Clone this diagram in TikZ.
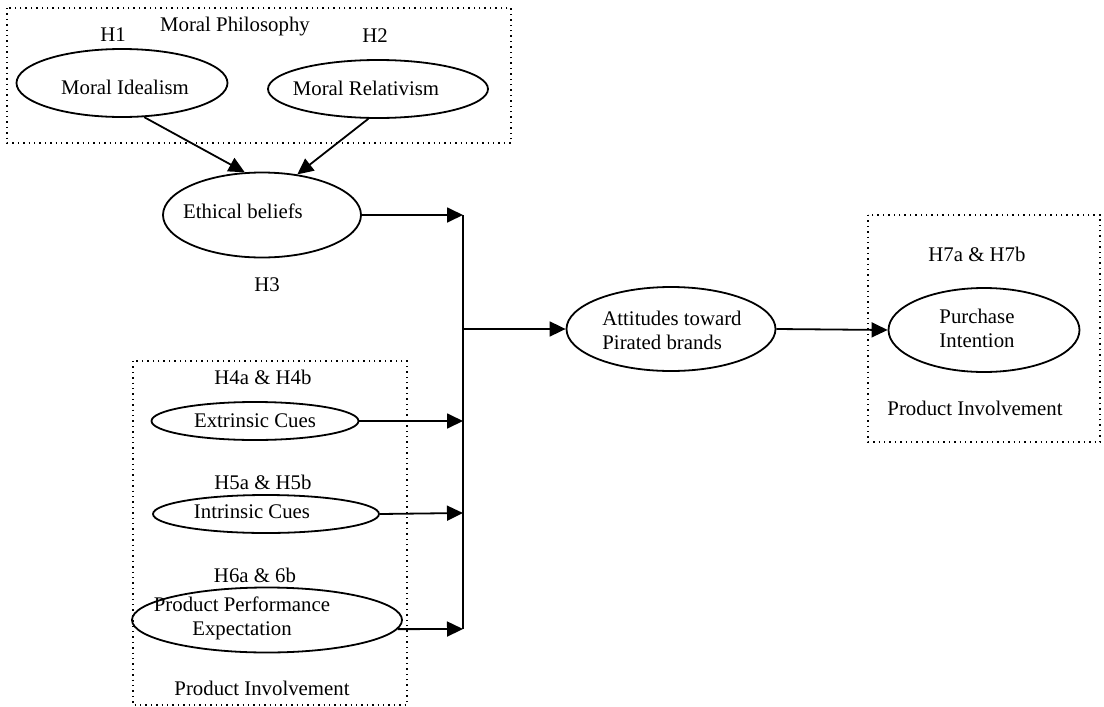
\documentclass[tikz,border=0pt]{standalone}
\usepackage{fontspec}
\setmainfont{Liberation Serif}
\usetikzlibrary{shapes.geometric,arrows.meta}
\tikzset{>={Triangle[length=8pt,width=7.5pt]}}
\tikzset{
    construct/.style={draw, ellipse, line width=0.9pt, inner sep=0pt},
    plain/.style={inner sep=0pt, font=\fontsize{10.4}{12}\selectfont, align=center},
    groupbox/.style={dotted, line width=0.7pt},
    link/.style={->, line width=0.9pt}
}

\begin{document}
\begin{tikzpicture}[x=0.5pt, y=-0.5pt]
			\useasboundingbox (0,0) rectangle (1104,707);
			
			% Groups
			\draw[groupbox] (7,8) rectangle (511,143);
			\draw[groupbox] (133,361) rectangle (407,705);
			\draw[groupbox] (868,215) rectangle (1100,442);
			
			% Constructs
			\node[construct, minimum width=105.5pt, minimum height=34pt] (mi) at (122,83) {};
			\node[construct, minimum width=110pt, minimum height=29pt] (mr) at (378,89) {};
			\node[construct, minimum width=99pt, minimum height=42.5pt] (eth) at (262,215) {};
			\node[construct, minimum width=103.5pt, minimum height=19pt] (ext) at (255,421) {};
			\node[construct, minimum width=113pt, minimum height=19pt] (int) at (266,514) {};
			\node[construct, minimum width=135pt, minimum height=32.5pt] (ppe) at (267,620) {};
			\node[construct, minimum width=104.5pt, minimum height=42pt] (att) at (671,329) {};
			\node[construct, minimum width=95.5pt, minimum height=42pt] (pi) at (984,330) {};
			
			% Junctions
			\coordinate (b1) at (463,215);
			\coordinate (bm) at (463,329);
			\coordinate (b2) at (463,421);
			\coordinate (b3) at (463,513);
			\coordinate (b4) at (463,629);
			
			% Arrows
			\draw[link] (mi.-57) -- (eth.112);
			\draw[link] (mr.-108) -- (eth.49);
			\draw[link] (eth.east) -- (b1);
			\draw[link] (ext.east) -- (b2);
			\draw[link] (int.east) -- (b3);
			\draw[link] (ppe.-4) -- (b4);
			\draw[line width=0.9pt] (b1) -- (b4);
			\draw[link] (bm) -- (att.west);
			\draw[link] (att.east) -- (pi.west);
			
			% Nodes
			\node[plain] (mphil) at (235,27) {Moral Philosophy};
			\node[plain] (h1) at (113,35) {H1};
			\node[plain] (h2) at (375,36) {H2};
			\node[plain] (mitxt) at (125,87) {Moral Idealism};
			\node[plain] (mrtxt) at (366,88) {Moral Relativism};
			\node[plain] (ethtxt) at (243,211) {Ethical beliefs};
			\node[plain] (h3) at (267,285) {H3};
			\node[plain] (h4) at (263,377) {H4a \& H4b};
			\node[plain] (exttxt) at (255,421) {Extrinsic Cues};
			\node[plain] (h5) at (263,482) {H5a \& H5b};
			\node[plain] (inttxt) at (252,512) {Intrinsic Cues};
			\node[plain] (h6) at (255,575) {H6a \& 6b};
			\node[plain] (ppetxt) at (242,618) {Product Performance\\Expectation};
			\node[plain] (pinvl) at (262,688) {Product Involvement};
			\node[plain, align=left, anchor=west] (atttxt) at (602,330) {Attitudes toward\\Pirated brands};
			\node[plain] (pitxt) at (977,328) {Purchase\\Intention};
			\node[plain] (h7) at (977,254) {H7a \& H7b};
			\node[plain] (pinvr) at (975,408) {Product Involvement};
		\end{tikzpicture}
\end{document}
